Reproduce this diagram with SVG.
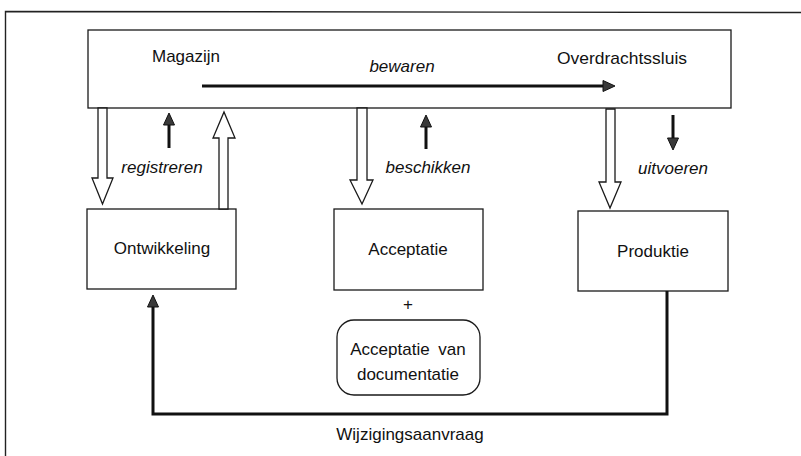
<svg xmlns="http://www.w3.org/2000/svg" width="801" height="456" viewBox="0 0 801 456">
<style>
.box{fill:#fff;stroke:#1a1a1a;stroke-width:1.3}
.hollow{fill:#fff;stroke:#1a1a1a;stroke-width:1.3;stroke-linejoin:miter}
.solid{fill:none;stroke:#111;stroke-width:3}
.t{font-family:"Liberation Sans",Arial,sans-serif;font-size:17px;fill:#111}
.i{font-style:italic}
</style>
<defs>
<marker id="ah" markerUnits="userSpaceOnUse" markerWidth="13" markerHeight="11" refX="0" refY="5.5" orient="auto" overflow="visible">
<path d="M0,0 L12,5.5 L0,11 Z" fill="#3a3a3a" stroke="#111" stroke-width="1"/>
</marker>
</defs>
<rect width="801" height="456" fill="#fff"/>
<g id="frame">
<path d="M5.5,456 L5.5,11.5 L801,12.5" fill="none" stroke="#222" stroke-width="1.4"/>
</g>
<g id="magazijn">
<rect class="box" x="88" y="30" width="643" height="78"/>
<text class="t" x="152" y="62">Magazijn</text>
<text class="t" x="622" y="64" text-anchor="middle" textLength="130" lengthAdjust="spacingAndGlyphs">Overdrachtssluis</text>
</g>
<g id="ontwikkeling">
<rect class="box" x="87" y="209" width="149" height="80"/>
<text class="t" x="162" y="254" text-anchor="middle">Ontwikkeling</text>
</g>
<g id="acceptatie">
<rect class="box" x="334" y="209" width="149" height="81"/>
<text class="t" x="408" y="255" text-anchor="middle">Acceptatie</text>
</g>
<g id="produktie">
<rect class="box" x="578" y="211" width="150" height="80"/>
<text class="t" x="653" y="257" text-anchor="middle">Produktie</text>
</g>
<g id="acceptatie-doc">
<text class="t" x="408" y="310" text-anchor="middle">+</text>
<rect class="box" x="337" y="320" width="143" height="75" rx="17" ry="17"/>
<text class="t" x="408" y="355" text-anchor="middle" word-spacing="4">Acceptatie van</text>
<text class="t" x="408" y="380" text-anchor="middle">documentatie</text>
</g>
<g id="connectors">
<line class="solid" x1="202" y1="86" x2="603" y2="86" marker-end="url(#ah)"/>
<text class="t i" x="402" y="72" text-anchor="middle">bewaren</text>
<polygon class="hollow" points="98,108 107,108 107,178 113,178 102.5,204 92,178 98,178"/>
<polygon class="hollow" points="219,209 219,138 213,138 224,112 235,138 228,138 228,209"/>
<polygon class="hollow" points="357,108 367,108 367,180 373,180 362,204 350,180 357,180"/>
<polygon class="hollow" points="606,109 615,109 615,182 621,182 610,208 599,182 606,182"/>
<line class="solid" x1="169" y1="148" x2="169" y2="125" marker-end="url(#ah)"/>
<text class="t i" x="162" y="173" text-anchor="middle">registreren</text>
<line class="solid" x1="426" y1="149" x2="426" y2="127" marker-end="url(#ah)"/>
<text class="t i" x="428" y="173" text-anchor="middle">beschikken</text>
<line class="solid" x1="673" y1="115" x2="673" y2="138" marker-end="url(#ah)"/>
<text class="t i" x="673" y="174" text-anchor="middle">uitvoeren</text>
<polyline class="solid" points="667,291 667,414 153,414 153,307" stroke-linejoin="miter" marker-end="url(#ah)"/>
<text class="t" x="410" y="440" text-anchor="middle">Wijzigingsaanvraag</text>
</g>
</svg>
